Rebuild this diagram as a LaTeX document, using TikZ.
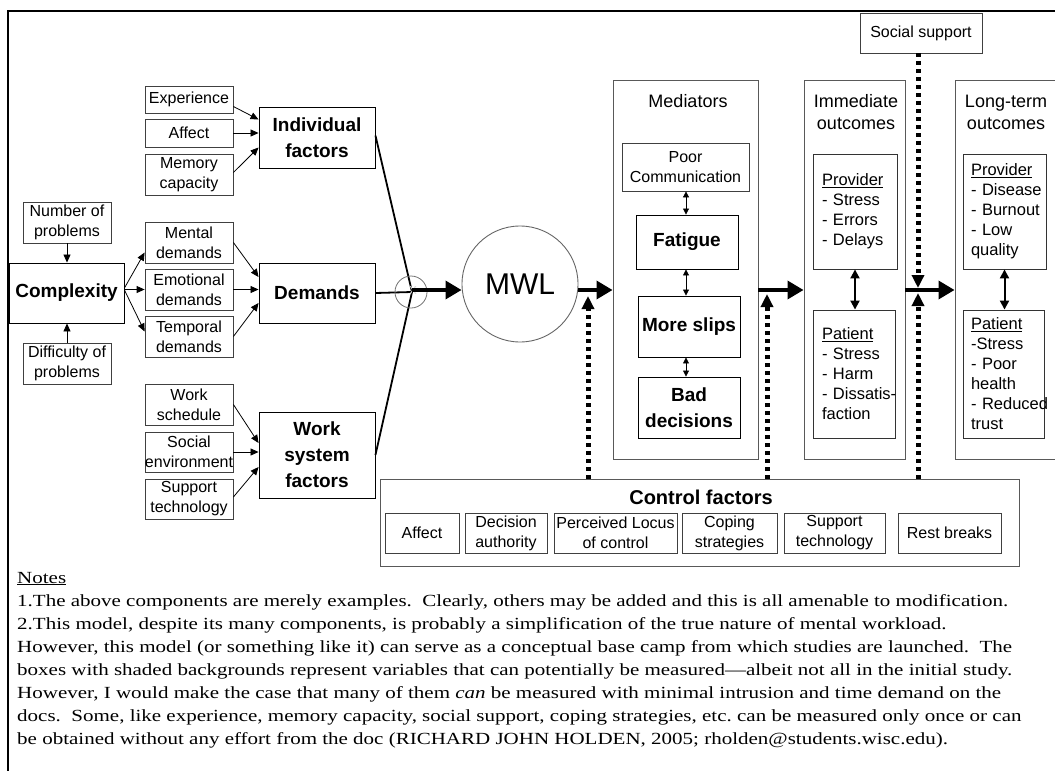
\documentclass[tikz,border=0pt]{standalone}
\usepackage{fontspec}
\setmainfont{Liberation Sans}
\newfontfamily\notesfont[FakeStretch=1.235]{Liberation Serif}
\usetikzlibrary{arrows.meta,calc}

% box given by its corners (x1,y1) and (x2,y2)
\newcommand\mkbox[7]{\node[#6, minimum width={(#4)-(#2)}, minimum height={(#5)-(#3)}] (#1) at ({((#2)+(#4))/2},{((#3)+(#5))/2}) {#7};}

\begin{document}
\begin{tikzpicture}[x=1pt,y=-1pt,
  sbox/.style={draw=black!75, line width=0.8pt, inner sep=0pt, align=center, font=\fontsize{16}{20}\selectfont},
  bbox/.style={draw=black, line width=0.9pt, inner sep=0pt, align=center, font=\bfseries\fontsize{19}{26}\selectfont},
  grp/.style={draw=black!65, line width=0.9pt, inner sep=0pt},
  lbox/.style={draw=black!80, line width=0.9pt, inner ysep=0pt, align=left, font=\fontsize{16.5}{20}\selectfont},
  ttl/.style={align=center, font=\fontsize{18}{22}\selectfont},
  arr/.style={line width=0.8pt, -{Triangle[length=8pt,width=7pt]}},
  dbl/.style={line width=0.8pt, {Triangle[length=6pt,width=6pt]}-{Triangle[length=6pt,width=6pt]}},
  dblthick/.style={line width=2pt, {Triangle[length=9pt,width=9pt]}-{Triangle[length=9pt,width=9pt]}},
  big/.style={line width=3.5pt, -{Triangle[length=16pt,width=18pt]}},
  dots/.style={line width=5pt, dash pattern=on 4pt off 4pt, -{Triangle[length=13pt,width=12pt]}},
  joinline/.style={line width=1.8pt},
  notes/.style={anchor=base west, inner sep=0pt, font=\notesfont\fontsize{17}{23}\selectfont\frenchspacing}
]
\path[use as bounding box] (0,0) rectangle (1055,771);
\clip (0,0) rectangle (1055,771);

% frame
\draw[line width=2pt] (8,780) -- (8,11) -- (1062,11);

% ---------- left side: antecedents ----------
\mkbox{exp}{145}{86}{233}{113}{sbox}{Experience}
\mkbox{aff}{145}{119}{233}{147}{sbox}{Affect}
\mkbox{mem}{145}{154}{233}{195}{sbox}{Memory\\capacity}
\mkbox{ind}{259}{107}{375}{168}{bbox}{Individual\\factors}

\mkbox{nop}{23}{202}{111}{243}{sbox}{Number of\\problems}
\mkbox{cpx}{9}{263}{124}{323}{bbox}{Complexity}
\mkbox{dop}{23}{343}{111}{384}{sbox}{Difficulty of\\problems}

\mkbox{men}{145}{222}{233}{263}{sbox}{Mental\\demands}
\mkbox{emo}{145}{269}{233}{310}{sbox}{Emotional\\demands}
\mkbox{tem}{145}{316}{233}{357}{sbox}{Temporal\\demands}
\mkbox{dem}{259}{263}{375}{323}{bbox}{Demands}

\mkbox{wsc}{145}{384}{233}{425}{sbox}{Work\\schedule}
\mkbox{soc}{145}{432}{233}{472}{sbox}{Social\\environment}
\mkbox{sup}{145}{479}{233}{519}{sbox}{Support\\technology}
\mkbox{wsf}{259}{412}{375}{498}{bbox}{Work\\system\\factors}

\draw[arr] ($(exp.east)+(0,7)$) -- ($(ind.west)+(0,-18)$);
\draw[arr] (aff.east) -- (ind.west |- aff.east);
\draw[arr] ($(mem.east)+(0,-2)$) -- ($(ind.west)+(0,10)$);

\draw[arr] (nop.south) -- (nop.south |- cpx.north);
\draw[arr] (dop.north) -- (dop.north |- cpx.south);

\draw[arr] ($(cpx.east)+(0,-5)$) -- ($(men.west)+(0,10)$);
\draw[arr] (cpx.east |- emo.west) -- (emo.west);
\draw[arr] ($(cpx.east)+(0,-3)$) -- ($(tem.west)+(0,-5)$);

\draw[arr] (men.east) -- ($(dem.west)+(0,-16)$);
\draw[arr] (emo.east) -- (dem.west |- emo.east);
\draw[arr] (tem.east) -- ($(dem.west)+(0,10)$);

\draw[arr] (wsc.east) -- ($(wsf.west)+(0,-12)$);
\draw[arr] (soc.east) -- (wsf.west |- soc.east);
\draw[arr] ($(sup.east)+(0,-2)$) -- ($(wsf.west)+(0,12)$);

% ---------- junction and MWL ----------
\coordinate (row) at (0,290);
\coordinate (jc) at (412,292);
\draw[joinline] ($(ind.east)+(0,-2)$) -- (jc);
\draw[joinline] (dem.east) -- (jc);
\draw[joinline] (wsf.east) -- (jc);
\node[circle, draw=black!55, line width=0.8pt, minimum size=32pt, inner sep=0pt] (jn) at (411,292) {};
\node[text=black!15, inner sep=0pt, font=\fontsize{15}{15}\selectfont] (jx) at (413,291) {x};

\node[circle, draw=black!60, line width=0.9pt, minimum size=116pt, inner sep=0pt,
      font=\fontsize{30}{30}\selectfont] (mwl) at (520,284) {MWL};

\draw[big] (jc |- row) -- (mwl.west |- row);

% ---------- mediators ----------
\mkbox{med}{613}{80}{758}{459}{grp}{}
\node[ttl] (tmed) at (688,101) {Mediators};
\mkbox{pc}{622}{143}{749}{191}{sbox}{Poor\\Communication}
\mkbox{fat}{636}{215}{738}{269}{bbox}{Fatigue}
\mkbox{ms}{638}{296}{740}{357}{bbox}{More slips}
\mkbox{bd}{638}{377}{740}{438}{bbox}{Bad\\decisions}
\coordinate (mx) at (686,0);
\draw[dbl] (mx |- pc.south) -- (mx |- fat.north);
\draw[dbl] (mx |- fat.south) -- (mx |- ms.north);
\draw[dbl] (mx |- ms.south) -- (mx |- bd.north);

\draw[big] (mwl.east |- row) -- (med.west |- row);

% ---------- immediate outcomes ----------
\mkbox{imm}{804}{80}{905}{459}{grp}{}
\node[ttl] (timm) at (856,112) {Immediate\\outcomes};
\node[lbox, inner xsep=9pt, text width=66pt, minimum height=115pt] (ip) at (855,211.5)
  {\mbox{\underline{Provider}}\\\mbox{- Stress}\\\mbox{- Errors}\\\mbox{- Delays}};
\node[lbox, inner xsep=9pt, text width=64pt, minimum height=128pt] (ipat) at (854,374)
  {\mbox{\underline{Patient}}\\\mbox{- Stress}\\\mbox{- Harm}\\\mbox{- Dissatis-}\\\mbox{faction}};
\draw[dblthick] (ip.south) -- (ip.south |- ipat.north);

\draw[big] (med.east |- row) -- (imm.west |- row);

% ---------- long-term outcomes ----------
\mkbox{lt}{955}{80}{1057}{459}{grp}{}
\node[ttl] (tlt) at (1006,112) {Long-term\\outcomes};
\node[lbox, inner xsep=8pt, text width=67pt, minimum height=115pt] (lp) at (1004.5,211.5)
  {\mbox{\underline{Provider}}\\\mbox{- Disease}\\\mbox{- Burnout}\\\mbox{- Low}\\\mbox{quality}};
\node[lbox, inner xsep=8pt, text width=65pt, minimum height=128pt] (lpat) at (1003.5,374)
  {\mbox{\underline{Patient}}\\\mbox{-Stress}\\\mbox{- Poor}\\\mbox{health}\\\mbox{- Reduced}\\\mbox{trust}};
\draw[dblthick] (lp.south) -- (lp.south |- lpat.north);

\draw[big] (imm.east |- row) -- (lt.west |- row);

% ---------- social support ----------
\mkbox{ss}{860}{13}{982}{53}{sbox}{Social support}

% ---------- control factors ----------
\mkbox{ctl}{380}{479}{1019}{566}{grp}{}
\node[font=\bfseries\fontsize{20}{24}\selectfont] (tctl) at (701,497) {Control factors};
\mkbox{c1}{385}{513}{459}{553}{sbox}{Affect}
\mkbox{c2}{465}{513}{547}{553}{sbox}{Decision\\authority}
\mkbox{c3}{554}{513}{677}{553}{sbox}{Perceived Locus\\of control}
\mkbox{c4}{682}{513}{777}{553}{sbox}{Coping\\strategies}
\mkbox{c5}{784}{513}{885}{553}{sbox}{Support\\technology}
\mkbox{c6}{898}{513}{1001}{553}{sbox}{Rest breaks}

% moderating paths
\coordinate (t1) at (588,296);
\coordinate (t2) at (767,294);
\coordinate (t3) at (918,293);
\coordinate (t4) at (918,288);
\draw[dots] (t1 |- ctl.north) -- (t1);
\draw[dots] (t2 |- ctl.north) -- (t2);
\draw[dots] (t3 |- ctl.north) -- (t3);
\draw[dots] (t4 |- ss.south) -- (t4);

% ---------- notes ----------
\node[notes] (n0) at (17,583) {\underline{Notes}};
\node[notes] (n1) at (17,606) {1.The above components are merely examples.\ \ Clearly, others may be added and this is all amenable to modification.};
\node[notes] (n2) at (17,629) {2.This model, despite its many components, is probably a simplification of the true nature of mental workload.};
\node[notes] (n3) at (17,652) {However, this model (or something like it) can serve as a conceptual base camp from which studies are launched.\ \ The};
\node[notes] (n4) at (17,675) {boxes with shaded backgrounds represent variables that can potentially be measured—albeit not all in the initial study.};
\node[notes] (n5) at (17,698) {However, I would make the case that many of them \textit{can} be measured with minimal intrusion and time demand on the};
\node[notes] (n6) at (17,721) {docs.\ \ Some, like experience, memory capacity, social support, coping strategies, etc. can be measured only once or can};
\node[notes] (n7) at (17,744) {be obtained without any effort from the doc (RICHARD JOHN HOLDEN, 2005; rholden@students.wisc.edu).};
\end{tikzpicture}
\end{document}
